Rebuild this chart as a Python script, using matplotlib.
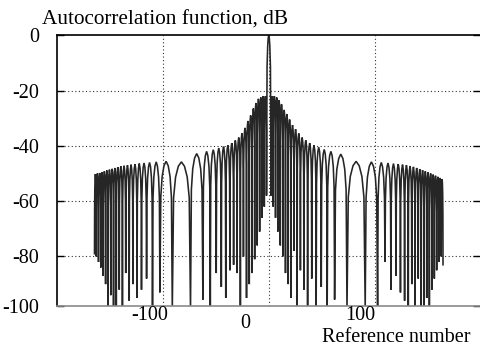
"""
Autocorrelation function of a chirp-like code, dB vs reference number.
Redrawn from a scanned figure.
"""

import matplotlib
matplotlib.use("Agg")
import matplotlib.pyplot as plt

# ================================================================
# Data
# ================================================================
# main lobe around lag 0
MAIN_LAG = [-1.6, -1.0, -0.5, 0.0, 0.5, 1.0, 1.6]
MAIN_DB = [-11.5, -3.8, -1.0, 0.0, -1.0, -3.8, -11.5]

# right side: null positions (lags), null depths, lobe peak levels
RIGHT_NULL_LAG = [2.1, 4.2, 6.4, 8.6, 10.9, 13.3, 15.8, 18.4, 21.0, 23.9,
                  26.8, 29.9, 33.2, 36.7, 40.6, 44.8, 49.6, 55.2, 62.2, 73.9,
                  91.1, 102.8, 109.8, 115.4, 120.2, 124.4, 128.3, 131.8, 135.1, 138.2,
                  141.2, 144.0, 146.6, 149.2, 151.7, 154.1, 156.4, 158.6, 160.8, 162.9,
                  164.6]
RIGHT_NULL_DB = [-58, -62, -66, -71, -76, -80, -86, -90, -95, -78,
                 -98, -85, -92, -98, -88, -98, -91, -99, -95.6, -99,
                 -99, -99, -82, -92, -87, -93, -96, -99, -90, -99,
                 -88, -99, -99, -95, -99, -92, -88, -85, -82, -80,
                 -83]
RIGHT_PEAK_DB = [-22, -22, -22.5, -23.5, -25, -27, -28.5, -30.5, -32.5, -34,
                 -35.5, -37, -38, -39, -39.8, -40.5, -41.3, -42, -43, -45.6,
                 -45.8, -46, -46.2, -46.4, -46.6, -46.8, -47, -47.3, -47.6, -48,
                 -48.4, -48.8, -49.2, -49.6, -50, -50.4, -50.8, -51.2, -51.6, -52]

# left side, listed from the centre outwards
LEFT_NULL_LAG = [-2.1, -4.2, -6.4, -8.6, -10.9, -13.3, -15.8, -18.4, -21.0, -23.9,
                 -26.8, -29.9, -33.2, -36.7, -40.6, -44.8, -49.6, -55.2, -62.2, -73.9,
                 -91.1, -102.8, -109.8, -115.4, -120.2, -124.4, -128.3, -131.8, -135.1, -138.2,
                 -141.2, -144.0, -146.6, -149.2, -151.7, -154.1, -156.4, -158.6, -160.8, -162.9,
                 -164.6]
LEFT_NULL_DB = [-58, -62, -66, -71, -76, -81, -86, -90, -95, -80,
                -98, -86, -83, -85, -95, -91, -86, -99, -95.6, -99,
                -99, -93, -99, -88, -92, -95, -90, -96, -86, -99,
                -92, -99, -99, -94, -99, -90, -87, -84, -82, -80,
                -79]
LEFT_PEAK_DB = [-22, -22, -22.5, -23, -24.5, -26.5, -29, -31, -33.5, -35.5,
                -37, -38, -39, -39.8, -40.3, -40.8, -41.4, -42, -42.8, -45.8,
                -45.6, -45.8, -46, -46.2, -46.4, -46.6, -46.8, -47, -47.2, -47.4,
                -47.7, -48, -48.3, -48.6, -48.9, -49.2, -49.5, -49.8, -50, -50.2]

Y_TICKS = [-97.8, -80, -60, -40, -20, 0]
Y_TICK_LABELS = ["-100", "-80", "-60", "-40", "-20", "0"]
X_GRID = [-100, 0, 100]

# shape of one sidelobe between two nulls (fraction across, dB below peak)
LOBE_T = [0.07, 0.18, 0.33, 0.5, 0.67, 0.82, 0.93]
LOBE_DROP = [13, 5.5, 1.6, 0, 1.6, 5.5, 13]

W, H = 481, 345
FONT = "Liberation Serif"
FS = 14.5


def side_path(null_lag, null_db, peak_db):
    xs, ys = [null_lag[0]], [null_db[0]]
    for i, peak in enumerate(peak_db):
        a, b = null_lag[i], null_lag[i + 1]
        for t, drop in zip(LOBE_T, LOBE_DROP):
            xs.append(a + t * (b - a))
            ys.append(peak - drop)
        xs.append(b)
        ys.append(null_db[i + 1])
    return xs, ys


def main():
    lx, ly = side_path(LEFT_NULL_LAG, LEFT_NULL_DB, LEFT_PEAK_DB)
    rx, ry = side_path(RIGHT_NULL_LAG, RIGHT_NULL_DB, RIGHT_PEAK_DB)
    xs = lx[::-1] + MAIN_LAG + rx
    ys = ly[::-1] + MAIN_DB + ry

    fig = plt.figure(figsize=(W / 100, H / 100), dpi=100)
    ax = fig.add_axes([57 / W, 1 - 305.7 / H, 423.5 / W, 270.5 / H])

    ax.plot(xs, ys, color="#262626", lw=1.15, solid_joinstyle="miter")

    ax.set_xlim(-200, 200)
    ax.set_ylim(-97.8, 0)

    grid_kw = dict(color="#333333", lw=0.8, ls=(0, (1, 2.2)), zorder=0)
    for v in [-20, -40, -60, -80]:
        ax.axhline(v, **grid_kw)
    for v in X_GRID:
        ax.axvline(v, **grid_kw)

    ax.set_yticks(Y_TICKS)
    ax.set_yticklabels(Y_TICK_LABELS, family=FONT, fontsize=FS)
    ax.tick_params(axis="y", direction="in", length=5, width=1.0,
                   left=True, right=True, pad=13)
    ax.set_xticks([])

    for side in ["top", "left"]:
        ax.spines[side].set_color("black")
        ax.spines[side].set_linewidth(1.2)
    ax.spines["bottom"].set_color("#8a8a8a")
    ax.spines["bottom"].set_linewidth(1.2)
    ax.spines["right"].set_visible(False)

    # x labels sit off the grid lines in the original
    fig.text(150 / W, 1 - 315 / H, "-100", family=FONT, fontsize=FS,
             ha="center", va="center")
    fig.text(245 / W, 1 - 323 / H, "0", family=FONT, fontsize=FS,
             ha="center", va="center")
    fig.text(360 / W, 1 - 315 / H, "100", family=FONT, fontsize=FS,
             ha="center", va="center")
    fig.text(322 / W, 1 - 337 / H, "Reference number", family=FONT,
             fontsize=FS, ha="left", va="center")
    fig.text(42 / W, 1 - 20 / H, "Autocorrelation function, dB", family=FONT,
             fontsize=15.3, ha="left", va="center")

    fig.savefig("out.png", dpi=100)
    plt.close(fig)


if __name__ == "__main__":
    main()
